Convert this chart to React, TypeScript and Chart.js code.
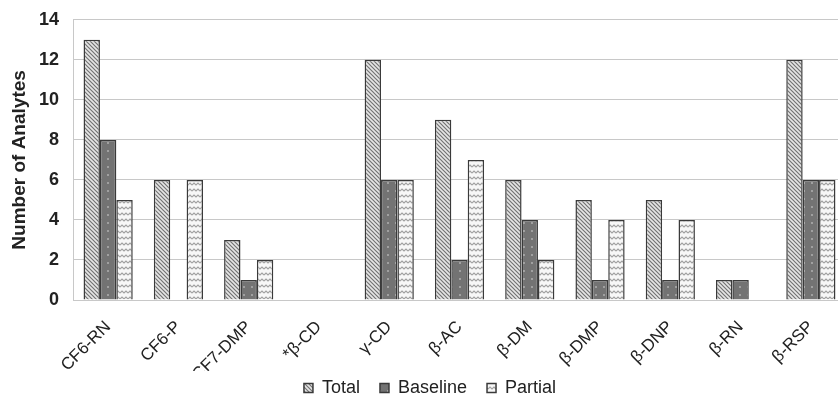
import React, { useEffect, useRef } from "react";
import { Chart, registerables } from "chart.js";

Chart.register(...registerables);

const categories = ["CF6-RN", "CF6-P", "CF7-DMP", "*β-CD", "γ-CD", "β-AC", "β-DM", "β-DMP", "β-DNP", "β-RN", "β-RSP"];
const totalValues = [13, 6, 3, 0, 12, 9, 6, 5, 5, 1, 12];
const baselineValues = [8, 0, 1, 0, 6, 2, 4, 1, 1, 1, 6];
const partialValues = [5, 6, 2, 0, 6, 7, 2, 4, 4, 0, 6];
const seriesNames = ["Total", "Baseline", "Partial"];

function makePattern(kind: string): CanvasPattern | string {
  const c = document.createElement("canvas");
  const w = kind === "diag" ? 4 : 8;
  const h = kind === "diag" ? 4 : kind === "wave" ? 6 : 8;
  c.width = w;
  c.height = h;
  const ctx = c.getContext("2d");
  if (!ctx) return "#bbb";
  if (kind === "diag") {
    ctx.fillStyle = "#e6e6e6";
    ctx.fillRect(0, 0, 4, 4);
    ctx.strokeStyle = "#737373";
    ctx.lineWidth = 1.2;
    ctx.beginPath();
    ctx.moveTo(-1, -1);
    ctx.lineTo(5, 5);
    ctx.moveTo(-1, 3);
    ctx.lineTo(1, 5);
    ctx.moveTo(3, -1);
    ctx.lineTo(5, 1);
    ctx.stroke();
  } else if (kind === "dots") {
    ctx.fillStyle = "#737373";
    ctx.fillRect(0, 0, 8, 8);
    ctx.fillStyle = "#a0a0a0";
    ctx.fillRect(3, 3, 2, 2);
  } else {
    ctx.fillStyle = "#f7f7f7";
    ctx.fillRect(0, 0, 8, 6);
    ctx.strokeStyle = "#a0a0a0";
    ctx.lineWidth = 1.1;
    ctx.beginPath();
    ctx.moveTo(0, 4);
    ctx.lineTo(2, 2);
    ctx.lineTo(4, 4);
    ctx.lineTo(6, 2);
    ctx.lineTo(8, 4);
    ctx.stroke();
  }
  const p = ctx.createPattern(c, "repeat");
  return p || "#bbb";
}

const legendShift = {
  id: "legendShift",
  afterLayout(chart: any) {
    const lg = chart.legend;
    if (lg) {
      const h = lg.height;
      lg.top = 364;
      lg.bottom = 364 + h;
      lg.left += 7;
      lg.right += 7;
    }
  },
};

export default function App() {
  const ref = useRef<HTMLCanvasElement | null>(null);
  useEffect(() => {
    if (!ref.current) return;
    const font = "'Liberation Sans', Arial, sans-serif";
    const chart = new Chart(ref.current, {
      type: "bar",
      data: {
        labels: categories,
        datasets: [
          { label: seriesNames[0], data: totalValues, backgroundColor: makePattern("diag") as any, borderColor: "#3a3a3a", borderWidth: 1.5 },
          { label: seriesNames[1], data: baselineValues, backgroundColor: makePattern("dots") as any, borderColor: "#3a3a3a", borderWidth: 1.5 },
          { label: seriesNames[2], data: partialValues, backgroundColor: makePattern("wave") as any, borderColor: "#3a3a3a", borderWidth: 1.5 },
        ],
      },
      plugins: [legendShift],
      options: {
        animation: false,
        responsive: false,
        maintainAspectRatio: false,
        layout: { padding: { left: 0, right: 0, top: 4, bottom: 0 } },
        datasets: { bar: { categoryPercentage: 0.7, barPercentage: 1.0 } },
        plugins: {
          tooltip: { enabled: false },
          legend: {
            position: "bottom",
            labels: {
              font: { family: font, size: 18 },
              color: "#222",
              boxWidth: 9,
              boxHeight: 9,
              padding: 20,
            },
          },
        },
        scales: {
          x: {
            grid: { display: false },
            border: { color: "#c8c8c8" },
            afterFit: (scale: any) => {
              scale.height = 71;
            },
            ticks: {
              font: { family: font, size: 17 },
              color: "#222",
              maxRotation: 45,
              minRotation: 45,
              padding: 9,
            },
          },
          y: {
            min: 0,
            max: 14,
            grid: { color: "#c8c8c8", drawTicks: false },
            border: { color: "#c8c8c8" },
            afterFit: (scale: any) => {
              scale.width = 73;
            },
            ticks: {
              stepSize: 2,
              font: { family: font, size: 18, weight: "bold" },
              color: "#222",
              padding: 14,
            },
            title: {
              display: true,
              text: "Number of Analytes",
              font: { family: font, size: 19, weight: "bold" },
              color: "#222",
              padding: { top: 8, bottom: 0 },
            },
          },
        },
      },
    });
    return () => chart.destroy();
  }, []);
  return (
    <div style={{ position: "fixed", left: 0, top: 0, width: 838, height: 397, overflow: "hidden", background: "#fff" }}>
      <canvas ref={ref} width={846} height={424} style={{ display: "block", marginTop: -5 }} />
    </div>
  );
}
